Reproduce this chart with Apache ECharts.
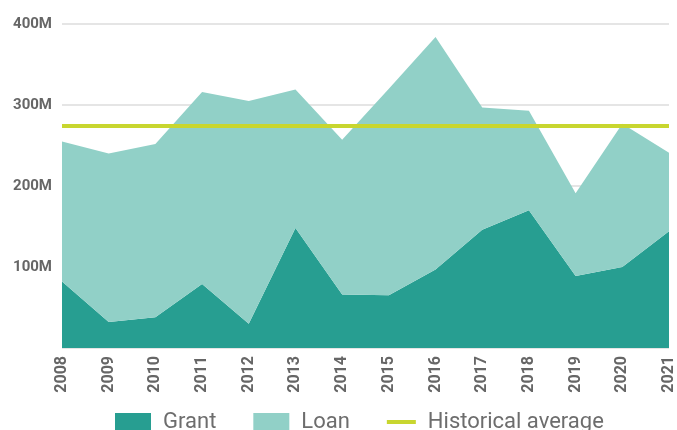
<!DOCTYPE html>
<html>
<head>
<meta charset="utf-8">
<script src="https://cdn.jsdelivr.net/npm/echarts@6/dist/echarts.min.js"></script>
<style>
  html, body { margin: 0; padding: 0; background: #fff; }
  #chart { width: 677px; height: 430px; }
</style>
</head>
<body>
<div id="chart"></div>
<script>
// values in millions
const years = ['2008', '2009', '2010', '2011', '2012', '2013', '2014', '2015', '2016', '2017', '2018', '2019', '2020', '2021']
const grant = [82, 32, 38, 79, 30, 148, 66, 65, 97, 146, 170, 89, 100, 144]
const loan = [173, 208, 214, 237, 275, 171, 191, 255, 287, 151, 123, 102, 177, 97]
const historicalAverage = 274

const chart = echarts.init(document.getElementById('chart'))

const option = {
  backgroundColor: '#fff',
  animation: false,
  grid: { left: 62, right: 7, top: 24, bottom: 82 },
  legend: {
    left: 110,
    top: 406,
    itemWidth: 36,
    itemHeight: 18,
    itemGap: 37,
    textStyle: { fontFamily: 'Roboto', fontSize: 22, color: '#6d6d6d', padding: [0, 0, 0, 7] },
    data: [
      { name: 'Grant', icon: 'rect' },
      { name: 'Loan', icon: 'rect' },
      // short bar at the left of the 36x18 box, no marker dot
      {
        name: 'Historical average',
        icon: 'path://M0,0 M36,18 M0,7 L29,7 L29,11 L0,11 Z',
        textStyle: { padding: [0, 0, 0, 0] }
      }
    ]
  },
  xAxis: {
    type: 'category',
    data: years,
    boundaryGap: false,
    axisLine: { show: false },
    axisTick: { show: false },
    axisLabel: {
      rotate: 90,
      margin: 8,
      fontFamily: 'Roboto',
      fontWeight: 'bold',
      fontSize: 16,
      color: '#666'
    }
  },
  yAxis: {
    type: 'value',
    min: 0,
    max: 400,
    interval: 100,
    axisLine: { show: false },
    axisTick: { show: false },
    axisLabel: {
      margin: 10,
      fontFamily: 'Roboto',
      fontWeight: 'bold',
      fontSize: 15,
      color: '#666',
      formatter: (v) => (v === 0 ? '' : v + 'M')
    },
    splitLine: { lineStyle: { color: '#dddddd', width: 1.5 } }
  },
  series: [
    {
      name: 'Grant', type: 'line', stack: 'total',
      symbol: 'none',
      lineStyle: { width: 0 },
      itemStyle: { color: '#279e91' },
      areaStyle: { color: '#279e91', opacity: 1 },
      data: grant
    },
    {
      name: 'Loan', type: 'line', stack: 'total',
      symbol: 'none',
      lineStyle: { width: 0 },
      itemStyle: { color: '#91d0c7' },
      areaStyle: { color: '#91d0c7', opacity: 1 },
      data: loan
    },
    {
      name: 'Historical average', type: 'line',
      symbol: 'none',
      lineStyle: { color: '#c8d62f', width: 4 },
      itemStyle: { color: '#c8d62f' },
      data: years.map(() => historicalAverage),
      z: 5
    }
  ]
}

chart.setOption(option)
</script>
</body>
</html>
